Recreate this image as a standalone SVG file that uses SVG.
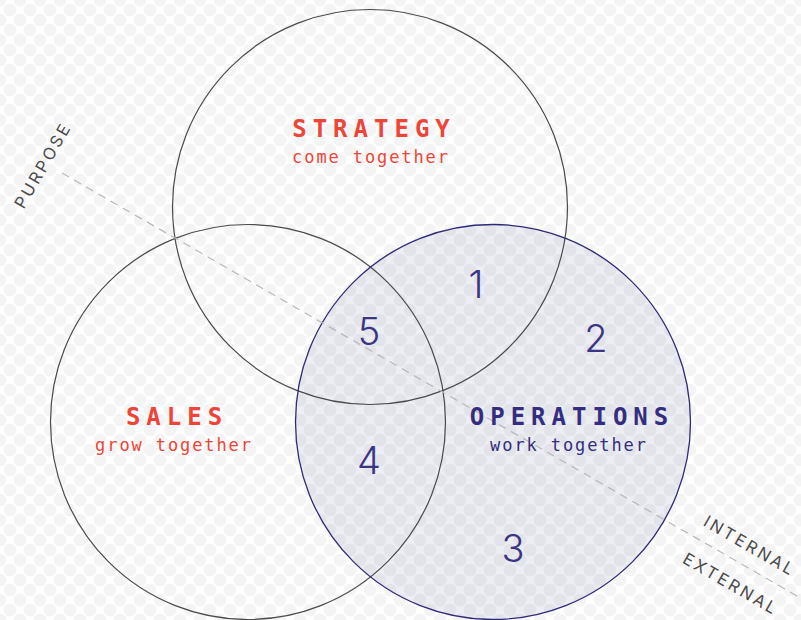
<svg xmlns="http://www.w3.org/2000/svg" width="801" height="620" viewBox="0 0 801 620">
  <defs>
    <!-- faint dotted backdrop -->
    <pattern id="dots" x="0" y="0" width="20" height="20" patternUnits="userSpaceOnUse">
      <rect width="20" height="20" fill="#ffffff"/>
      <circle cx="0" cy="0" r="6.3" fill="#f4f4f4"/>
      <circle cx="20" cy="0" r="6.3" fill="#f4f4f4"/>
      <circle cx="0" cy="20" r="6.3" fill="#f4f4f4"/>
      <circle cx="20" cy="20" r="6.3" fill="#f4f4f4"/>
      <circle cx="10" cy="10" r="6.3" fill="#f4f4f4"/>
    </pattern>
    <style>
      .ring { fill: none; stroke: #4a4a4a; stroke-width: 1.2; }
      .ring-ops { fill: none; stroke: #2e2a7a; stroke-width: 1.3; }
      .title { font-family: "DejaVu Sans Mono", "Liberation Mono", monospace; font-weight: bold; font-size: 24px; letter-spacing: 6px; text-anchor: middle; }
      .sub { font-family: "DejaVu Sans Mono", "Liberation Mono", monospace; font-size: 17px; letter-spacing: 1.9px; text-anchor: middle; }
      .red { fill: #ef4438; }
      .navy { fill: #332e7f; }
      .num { font-family: Inter, "Noto Sans", sans-serif; font-weight: 300; font-size: 38px; fill: #3a3584; text-anchor: middle; }
      .axis { font-family: Inter, "Noto Sans", sans-serif; font-size: 16.5px; letter-spacing: 2.8px; fill: #4a4a4a; text-anchor: middle; }
      .divider { stroke: #b8b8b8; stroke-width: 1.2; stroke-dasharray: 8 6; fill: none; }
    </style>
  </defs>

  <rect width="801" height="620" fill="url(#dots)"/>

  <!-- Operations circle: tinted fill -->
  <g id="operations">
    <circle cx="493" cy="422" r="197.5" fill="#2e2a7a" fill-opacity="0.085"/>
  </g>

  <g id="strategy">
    <circle class="ring" cx="370" cy="207" r="197.5"/>
    <text class="title red" x="374" y="137">STRATEGY</text>
    <text class="sub red" x="371" y="163">come together</text>
  </g>

  <g id="sales">
    <circle class="ring" cx="248" cy="422" r="197.5"/>
    <text class="title red" x="177" y="425">SALES</text>
    <text class="sub red" x="174" y="451">grow together</text>
  </g>

  <g id="operations-outline">
    <circle class="ring-ops" cx="493" cy="422" r="197.5"/>
  </g>

  <g id="connectors">
    <line class="divider" x1="62" y1="173" x2="797" y2="596"/>
  </g>

  <g id="operations-label">
    <text class="title navy" x="572" y="425">OPERATIONS</text>
    <text class="sub navy" x="569" y="451">work together</text>
  </g>

  <g id="regions">
    <text class="num" x="476" y="298">1</text>
    <text class="num" x="596" y="352">2</text>
    <text class="num" x="513" y="562">3</text>
    <text class="num" x="369" y="474">4</text>
    <text class="num" x="369" y="345">5</text>
  </g>

  <g id="axis-labels">
    <text class="axis" transform="translate(48,168) rotate(-60)">PURPOSE</text>
    <text class="axis" transform="translate(747,551) rotate(30)">INTERNAL</text>
    <text class="axis" transform="translate(728,589) rotate(30)">EXTERNAL</text>
  </g>
</svg>
